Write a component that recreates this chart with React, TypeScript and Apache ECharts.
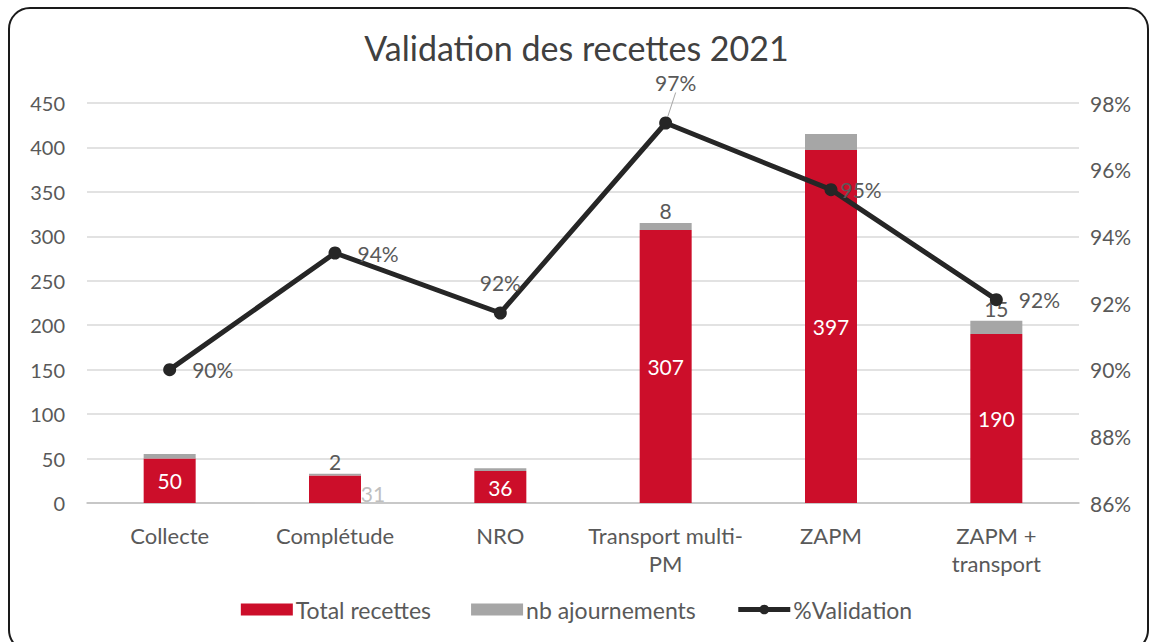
import React, { useEffect, useRef } from "react";
import * as echarts from "echarts";

const categories = ["Collecte", "Complétude", "NRO", "Transport multi-\nPM", "ZAPM", "ZAPM +\ntransport"];
const totalRecettes = [50, 31, 36, 307, 397, 190];
const nbAjournements = [5, 2, 3, 8, 18, 15];
const validation = [90.0, 93.5, 91.7, 97.4, 95.4, 92.1];
const leftTicks = { min: 0, max: 450, interval: 50 };
const rightTicks = { min: 86, max: 98, interval: 2 };

const FONT = "Lato";
const TXT = "#595959";
const RED = "#CC0E2A";
const GREY = "#A6A6A6";
const LINE = "#262626";

export default function App() {
  const ref = useRef<HTMLDivElement>(null);
  useEffect(() => {
    if (!ref.current) return;
    const chart = echarts.init(ref.current, null, { renderer: "svg" });
    const ajournLabelShown = [false, true, false, true, false, true];
    chart.setOption({
      animation: false,
      textStyle: { fontFamily: FONT },
      title: {
        text: "Validation des recettes 2021",
        left: "center",
        top: 25,
        textStyle: { fontFamily: FONT, fontSize: 34, fontWeight: "normal", color: "#404040" },
      },
      legend: {
        bottom: 16,
        left: "center",
        itemWidth: 52,
        itemHeight: 12,
        itemGap: 40,
        textStyle: { fontFamily: FONT, fontSize: 23, color: TXT, padding: [0, 0, 0, -2] },
        data: [
          { name: "Total recettes", icon: "rect" },
          { name: "nb ajournements", icon: "rect" },
          { name: "%Validation", lineStyle: { width: 5, color: LINE }, itemStyle: { color: LINE } },
        ],
      },
      grid: { left: 87, right: 74, top: 103, bottom: 139 },
      xAxis: {
        type: "category",
        data: categories,
        axisTick: { show: false },
        axisLine: { lineStyle: { color: "#BFBFBF", width: 1.5 } },
        axisLabel: { fontFamily: FONT, fontSize: 22, color: TXT, margin: 18, lineHeight: 28, interval: 0 },
      },
      yAxis: [
        {
          type: "value",
          min: leftTicks.min,
          max: leftTicks.max,
          interval: leftTicks.interval,
          axisLabel: { fontFamily: FONT, fontSize: 20, color: TXT, margin: 22 },
          splitLine: { lineStyle: { color: "#D9D9D9", width: 1.5 } },
          axisLine: { show: false },
          axisTick: { show: false },
        },
        {
          type: "value",
          min: rightTicks.min,
          max: rightTicks.max,
          interval: rightTicks.interval,
          axisLabel: { fontFamily: FONT, fontSize: 21, color: TXT, margin: 11, formatter: (v: number) => `${v}%` },
          splitLine: { show: false },
          axisLine: { show: false },
          axisTick: { show: false },
        },
      ],
      series: [
        {
          name: "Total recettes",
          type: "bar",
          stack: "a",
          barWidth: 52,
          itemStyle: { color: RED },
          data: totalRecettes.map((v, i) =>
            i === 1
              ? { value: v, label: { color: "#BFBFBF", offset: [38, 4] } }
              : v
          ),
          label: {
            show: true,
            position: "inside",
            color: "#ffffff",
            fontFamily: FONT,
            fontSize: 21,
          },
        },
        {
          name: "nb ajournements",
          type: "bar",
          stack: "a",
          barWidth: 52,
          itemStyle: { color: GREY },
          data: nbAjournements.map((v, i) => ({
            value: v,
            label: { show: ajournLabelShown[i] },
          })),
          label: {
            show: true,
            position: "top",
            distance: 2,
            color: TXT,
            fontFamily: FONT,
            fontSize: 21,
          },
        },
        {
          name: "%Validation",
          type: "line",
          yAxisIndex: 1,
          data: validation.map((v, i) => {
            const pos = ["right", "right", "top", "top", "right", "right"][i];
            const dist = [16, 16, 14, 24, 3, 16][i];
            return {
              value: v,
              label: { position: pos, distance: dist },
              labelLine: { show: i === 3, lineStyle: { color: "#A6A6A6", width: 1 } },
            };
          }),
          symbol: "circle",
          symbolSize: 13,
          lineStyle: { color: LINE, width: 5 },
          itemStyle: { color: LINE },
          z: 5,
          label: {
            show: true,
            color: TXT,
            fontFamily: FONT,
            fontSize: 21,
            formatter: (p: any) => `${Math.round(p.value)}%`,
          },
          labelLayout: (p: any) => (p.dataIndex === 3 ? { dx: 10, dy: 0 } : {}),
          labelLine: { show: false },
        },
      ],
    });
    return () => chart.dispose();
  }, []);
  return (
    <div style={{ position: "fixed", left: 0, top: 0, width: 1153, height: 642, overflow: "hidden", background: "#fff" }}>
      <div
        style={{
          position: "absolute",
          left: 8,
          top: 7,
          width: 1141,
          height: 645,
          border: "2px solid #1a1a1a",
          borderRadius: 22,
          boxSizing: "border-box",
        }}
      />
      <div ref={ref} style={{ position: "absolute", left: 0, top: 0, width: 1153, height: 642 }} />
    </div>
  );
}
